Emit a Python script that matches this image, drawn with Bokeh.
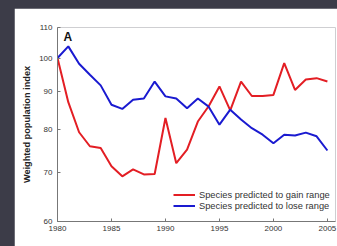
from bokeh.plotting import figure
from bokeh.models import (FixedTicker, PrintfTickFormatter, Legend, LegendItem,
                          Label, GlobalInlineStyleSheet, Range1d)
from bokeh.embed import file_html
from bokeh.resources import INLINE

years = list(range(1980, 2006))
gain = [100, 87.1, 79.3, 75.9, 75.5, 71.3, 69.1, 70.6, 69.5, 69.6, 82.9, 72.0, 75.1,
        82.0, 86.0, 91.5, 84.9, 92.9, 88.8, 88.8, 89.1, 98.4, 90.5, 93.5, 93.9, 92.9]
lose = [100, 103.7, 98.2, 94.9, 91.8, 86.4, 85.3, 87.8, 88.1, 92.9, 88.7, 88.1, 85.5,
        88.1, 85.9, 81.2, 85.1, 82.5, 80.3, 78.7, 76.6, 78.7, 78.5, 79.2, 78.3, 74.9]
x_ticks = [1980, 1985, 1990, 1995, 2000, 2005]
y_ticks = [60, 70, 80, 90, 100, 110]
gain_label = "Species predicted to gain range"
lose_label = "Species predicted to lose range"

css = GlobalInlineStyleSheet(css=(
    "html,body{margin:0 !important;padding:0;overflow:hidden;background:#3c3c48;}"
    "body{padding:8px 0 0 14px !important;}"))

p = figure(width=323, height=238, output_backend="svg", toolbar_location=None,
           y_axis_type="log", x_range=Range1d(1980, 2005.75), y_range=Range1d(60, 110),
           min_border_left=43, min_border_right=2, min_border_top=19, min_border_bottom=25,
           background_fill_color="white", border_fill_color="white",
           stylesheets=[css])
p.outline_line_color = None
p.grid.grid_line_color = None

for ax in (p.xaxis, p.yaxis):
    ax.axis_line_color = "#777777"
    ax.major_tick_line_color = "#777777"
    ax.major_tick_in = 3
    ax.major_tick_out = 0
    ax.minor_tick_line_color = None
    ax.major_label_text_font = "Liberation Sans"
    ax.major_label_text_font_size = "8px"
    ax.major_label_text_color = "#333333"

p.xaxis.ticker = FixedTicker(ticks=x_ticks)
p.xaxis.major_label_standoff = 4
p.yaxis.ticker = FixedTicker(ticks=y_ticks)
p.yaxis.formatter = PrintfTickFormatter(format="%d")
p.yaxis.major_label_standoff = 5
p.yaxis.axis_label = "Weighted population index"
p.yaxis.axis_label_text_font = "Liberation Sans"
p.yaxis.axis_label_text_font_style = "bold"
p.yaxis.axis_label_text_font_size = "9.2px"
p.yaxis.axis_label_text_color = "#222222"
p.yaxis.axis_label_standoff = 4

r_gain = p.line(years, gain, line_color="#e31e24", line_width=2)
r_lose = p.line(years, lose, line_color="#1a1ad0", line_width=2)

legend = Legend(items=[LegendItem(label=gain_label, renderers=[r_gain]),
                       LegendItem(label=lose_label, renderers=[r_lose])],
                location=(116, 10), padding=0, margin=0, spacing=0,
                glyph_width=22, glyph_height=11, label_height=11, label_standoff=4,
                label_text_font="Liberation Sans", label_text_font_size="9.3px",
                label_text_color="#333333", border_line_color=None,
                background_fill_alpha=0)
p.add_layout(legend)

p.add_layout(Label(x=1980.55, y=110, y_offset=-2, text="A", text_baseline="top",
                   text_font="Liberation Sans", text_font_style="bold",
                   text_font_size="12px", text_color="#111111"))

open("out.html", "w").write(file_html(p, INLINE))
